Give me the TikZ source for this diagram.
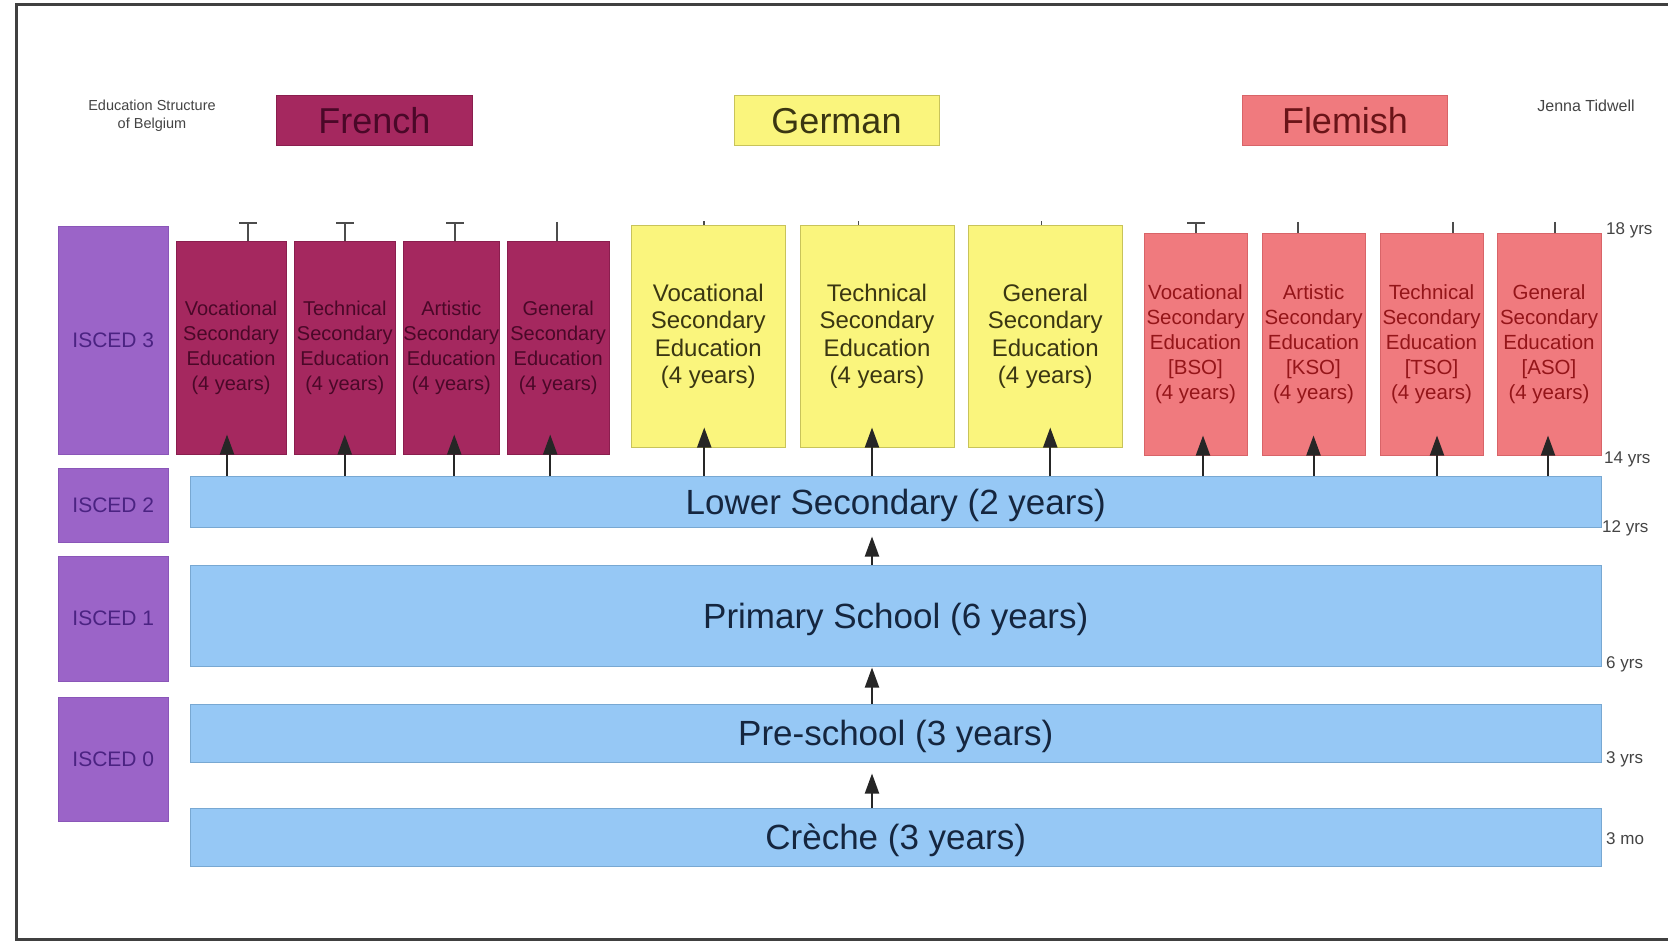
\documentclass[tikz,border=0pt]{standalone}
\usepackage{fontspec}
\setmainfont{Liberation Sans}
\usetikzlibrary{arrows.meta}
\definecolor{frfill}{HTML}{A5285F}
\definecolor{frdraw}{HTML}{8A1E4E}
\definecolor{frtext}{HTML}{4A0828}
\definecolor{gefill}{HTML}{FAF57D}
\definecolor{gedraw}{HTML}{C8C35A}
\definecolor{getext}{HTML}{3A3612}
\definecolor{flfill}{HTML}{F07A7E}
\definecolor{fldraw}{HTML}{D86468}
\definecolor{fltext}{HTML}{941519}
\definecolor{flhead}{HTML}{6A1418}
\definecolor{isfill}{HTML}{9B64C8}
\definecolor{isdraw}{HTML}{8A56B8}
\definecolor{istext}{HTML}{4B2382}
\definecolor{blfill}{HTML}{96C8F5}
\definecolor{bldraw}{HTML}{78A8D2}
\definecolor{bltext}{HTML}{15263F}
\definecolor{grtext}{HTML}{444444}
\tikzset{
  box/.style={draw, line width=1pt, inner sep=0pt, align=center, anchor=center},
  frbox/.style={box, fill=frfill, draw=frdraw, text=frtext, font=\fontsize{20}{25}\selectfont},
  gebox/.style={box, fill=gefill, draw=gedraw, text=getext, font=\fontsize{24}{27.5}\selectfont},
  flbox/.style={box, fill=flfill, draw=fldraw, text=fltext, font=\fontsize{20.5}{25}\selectfont},
  isbox/.style={box, fill=isfill, draw=isdraw, text=istext, font=\fontsize{21}{25}\selectfont},
  blbar/.style={box, fill=blfill, draw=bldraw, text=bltext, text depth=0pt, font=\fontsize{35}{40}\selectfont},
  headbox/.style={box, font=\fontsize{36}{40}\selectfont},
  smalltext/.style={inner sep=0pt, text=grtext, align=center},
  agelabel/.style={inner sep=0pt, anchor=west, text=grtext, font=\fontsize{17}{20}\selectfont},
  uparrow/.style={draw=black!85, line width=2pt, -{Triangle[width=14pt,length=20pt]}},
  tickline/.style={draw=black!70, line width=1.6pt},
  tbar/.style={tickline, {Bar[width=18pt,line width=1.6pt]}-},
}
\begin{document}
\begin{tikzpicture}[x=1pt,y=-1pt]
\useasboundingbox (0,0) rectangle (1668,944);
\fill[white] (0,0) rectangle (1668,944);
% frame
\draw[line width=3pt, draw=black!75] (1668,5) -- (16,5) -- (16,939) -- (1668,939);

% header
\node[smalltext, font=\fontsize{14.5}{17.5}\selectfont] (title) at (152,116) {Education Structure\\of Belgium};
\node[smalltext, font=\fontsize{16}{18}\selectfont] (author) at (1586,106) {Jenna Tidwell};
\node[headbox, fill=frfill, draw=frdraw, text=frtext, minimum width=196pt, minimum height=50pt] (hfr) at (374.5,120.7) {French};
\node[headbox, fill=gefill, draw=gedraw, text=getext, minimum width=205pt, minimum height=50pt] (hge) at (836.5,120.7) {German};
\node[headbox, fill=flfill, draw=fldraw, text=flhead, minimum width=205.5pt, minimum height=50pt] (hfl) at (1345,120.7) {Flemish};

% ISCED
\node[isbox, minimum width=109.5pt, minimum height=227.4pt] (i3) at (113.3,340.3) {ISCED 3};
\node[isbox, minimum width=109.5pt, minimum height=74.5pt] (i2) at (113.3,505.3) {ISCED 2};
\node[isbox, minimum width=109.5pt, minimum height=125pt] (i1) at (113.3,618.5) {ISCED 1};
\node[isbox, minimum width=109.5pt, minimum height=124pt] (i0) at (113.3,759) {ISCED 0};

% French
\node[frbox, minimum width=110pt, minimum height=212.5pt] (fv) at (231,347.8) {Vocational\\Secondary\\Education\\(4 years)};
\node[frbox, minimum width=100.5pt, minimum height=212.5pt] (ft) at (344.75,347.8) {Technical\\Secondary\\Education\\(4 years)};
\node[frbox, minimum width=95.5pt, minimum height=212.5pt] (fa) at (451.25,347.8) {Artistic\\Secondary\\Education\\(4 years)};
\node[frbox, minimum width=101.6pt, minimum height=212.5pt] (fg) at (558.2,347.8) {General\\Secondary\\Education\\(4 years)};

% German
\node[gebox, minimum width=154.5pt, minimum height=221.5pt] (gv) at (708.25,336.25) {Vocational\\Secondary\\Education\\(4 years)};
\node[gebox, minimum width=154pt, minimum height=221.5pt] (gt) at (877,336.25) {Technical\\Secondary\\Education\\(4 years)};
\node[gebox, minimum width=154.5pt, minimum height=221.5pt] (gg) at (1045.25,336.25) {General\\Secondary\\Education\\(4 years)};

% Flemish
\node[flbox, minimum width=103pt, minimum height=221pt] (lb) at (1195.5,344.5) {Vocational\\Secondary\\Education\\{[BSO]}\\(4 years)};
\node[flbox, minimum width=103pt, minimum height=221pt] (lk) at (1313.5,344.5) {Artistic\\Secondary\\Education\\{[KSO]}\\(4 years)};
\node[flbox, minimum width=103pt, minimum height=221pt] (lt) at (1431.5,344.5) {Technical\\Secondary\\Education\\{[TSO]}\\(4 years)};
\node[flbox, minimum width=104pt, minimum height=221pt] (la) at (1549,344.5) {General\\Secondary\\Education\\{[ASO]}\\(4 years)};

% blue bars
\node[blbar, minimum width=1410.6pt, minimum height=50.4pt] (ls) at (895.7,501.8) {Lower Secondary (2 years)};
\node[blbar, minimum width=1410.6pt, minimum height=101pt] (ps) at (895.7,615.5) {Primary School (6 years)};
\node[blbar, minimum width=1410.6pt, minimum height=58pt] (pre) at (895.7,733) {Pre-school (3 years)};
\node[blbar, minimum width=1410.6pt, minimum height=58pt] (cr) at (895.7,837) {Crèche (3 years)};

% age labels
\node[agelabel] (a18) at (1606,230) {18 yrs};
\node[agelabel] (a14) at (1604,459) {14 yrs};
\node[agelabel] (a12) at (1602,528) {12 yrs};
\node[agelabel] (a6) at (1606,664) {6 yrs};
\node[agelabel] (a3) at (1606,759) {3 yrs};
\node[agelabel] (a3m) at (1606,839) {3 mo};

% arrow anchor points
\coordinate (xfv) at ([xshift=-4pt]fv.south);
\coordinate (xft) at (ft.south);
\coordinate (xfa) at ([xshift=3pt]fa.south);
\coordinate (xfg) at ([xshift=-8pt]fg.south);
\coordinate (xgv) at ([xshift=-4pt]gv.south);
\coordinate (xgt) at ([xshift=-5pt]gt.south);
\coordinate (xgg) at ([xshift=5pt]gg.south);
\coordinate (xlb) at ([xshift=7.5pt]lb.south);
\coordinate (xlk) at (lk.south);
\coordinate (xlt) at ([xshift=5.5pt]lt.south);
\coordinate (xla) at ([xshift=-1pt]la.south);
\foreach \c in {xfv,xft,xfa,xfg,xgv,xgt,xgg,xlb,xlk,xlt,xla}{
  \draw[uparrow, shorten >=-20pt] (\c |- ls.north) -- (\c);
}

% vertical chain
\coordinate (mx) at (872,0);
\draw[uparrow, shorten >=9pt] (mx |- ps.north) -- (mx |- ls.south);
\draw[uparrow, shorten >=1pt] (mx |- pre.north) -- (mx |- ps.south);
\draw[uparrow, shorten >=11pt] (mx |- cr.north) -- (mx |- pre.south);

% ticks above boxes
\coordinate (tfv) at (248,222);
\coordinate (tft) at (345,222);
\coordinate (tfa) at (455,222);
\coordinate (tfg) at (557,222);
\draw[tbar] (tfv) -- (tfv |- fv.north);
\draw[tbar] (tft) -- (tft |- ft.north);
\draw[tbar] (tfa) -- (tfa |- fa.north);
\draw[tickline] (tfg) -- (tfg |- fg.north);
\coordinate (tgv) at (704,221.5);
\coordinate (tgt) at (858.5,221.5);
\coordinate (tgg) at (1041.5,221.5);
\draw[tickline] (tgv) -- (tgv |- gv.north);
\draw[tickline] (tgt) -- (tgt |- gt.north);
\draw[tickline] (tgg) -- (tgg |- gg.north);
\coordinate (tlb) at (1196,222);
\coordinate (tlk) at (1298,222);
\coordinate (tlt) at (1453,222);
\coordinate (tla) at (1555,222);
\draw[tbar] (tlb) -- (tlb |- lb.north);
\draw[tickline] (tlk) -- (tlk |- lk.north);
\draw[tickline] (tlt) -- (tlt |- lt.north);
\draw[tickline] (tla) -- (tla |- la.north);
\end{tikzpicture}
\end{document}
